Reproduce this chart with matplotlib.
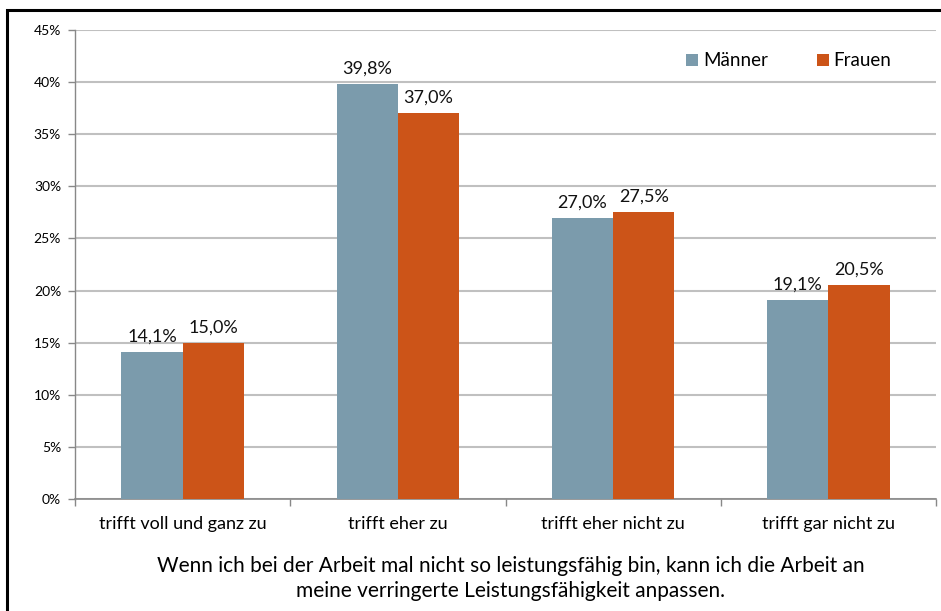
import matplotlib.pyplot as plt
import numpy as np
from matplotlib.patches import Rectangle

plt.rcParams['font.family'] = ['Lato', 'DejaVu Sans']

kategorien = ['trifft voll und ganz zu', 'trifft eher zu', 'trifft eher nicht zu', 'trifft gar nicht zu']
maenner = [14.1, 39.8, 27.0, 19.1]
frauen = [15.0, 37.0, 27.5, 20.5]
y_ticks = [0, 5, 10, 15, 20, 25, 30, 35, 40, 45]

farbe_m = '#7b9bac'
farbe_f = '#cc5418'

fig = plt.figure(figsize=(9.41, 6.11), dpi=100)
ax = fig.add_axes([75 / 941, 1 - 499 / 611, (936 - 75) / 941, (499 - 30) / 611])

x = np.arange(len(kategorien))
b = 0.285
bm = ax.bar(x - b / 2, maenner, width=b, color=farbe_m, label='Männer', zorder=3)
bf = ax.bar(x + b / 2, frauen, width=b, color=farbe_f, label='Frauen', zorder=3)

for bars, werte in [(bm, maenner), (bf, frauen)]:
    for r, v in zip(bars, werte):
        ax.text(r.get_x() + r.get_width() / 2, v + 0.7, f'{v:.1f}%'.replace('.', ','),
                ha='center', va='bottom', fontsize=13, color='#111111', zorder=4)

ax.set_xlim(-0.5, len(kategorien) - 0.5)
ax.set_ylim(0, 45)
ax.set_yticks(y_ticks)
ax.set_yticklabels([f'{t}%' for t in y_ticks], fontsize=10)
ax.yaxis.grid(True, color='#c0c0c0', linewidth=1.5, zorder=0)
ax.tick_params(axis='y', length=5, color='#888888', width=1, pad=5)

ax.set_xticks(x)
ax.set_xticklabels(kategorien, fontsize=13)
ax.tick_params(axis='x', length=0, pad=12)
ax.set_xticks(np.arange(-0.5, len(kategorien)), minor=True)
ax.tick_params(axis='x', which='minor', length=5, color='#888888', width=1)

for s in ['top', 'right']:
    ax.spines[s].set_visible(False)
ax.spines['left'].set_color('#888888')
ax.spines['bottom'].set_color('#888888')
ax.spines['left'].set_linewidth(1)
ax.spines['bottom'].set_linewidth(1.2)

ax.legend(loc='center left', bbox_to_anchor=((686 - 75) / 861, (499 - 61) / 469), ncol=2,
          frameon=False, fontsize=13.5, handlelength=0.65, handleheight=0.65,
          handletextpad=0.25, columnspacing=2.6, borderpad=0, borderaxespad=0)

fig.text(511 / 941, 1 - 566 / 611, 'Wenn ich bei der Arbeit mal nicht so leistungsfähig bin, kann ich die Arbeit an',
         ha='center', va='center', fontsize=15)
fig.text(511 / 941, 1 - 591 / 611, 'meine verringerte Leistungsfähigkeit anpassen.',
         ha='center', va='center', fontsize=15)

# schwarzer Rahmen, rechts und unten abgeschnitten
fig.patches.append(Rectangle((7 / 941, -0.05), 1.1, 1 - 10 / 611 + 0.05, transform=fig.transFigure,
                             fill=False, edgecolor='black', linewidth=2.2))

fig.savefig('out.png', dpi=100)
